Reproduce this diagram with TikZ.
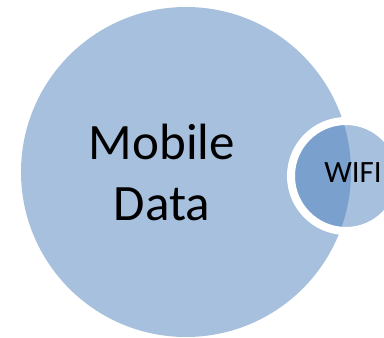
\documentclass[tikz,border=0pt]{standalone}
\usepackage{fontspec}
\setmainfont{Carlito}
\definecolor{accent}{HTML}{4F81BD}

\begin{document}
\begin{tikzpicture}[x=1pt, y=1pt,
	bubble/.style={circle, inner sep=0pt, fill=accent, fill opacity=0.5},
	bigword/.style={anchor=base, inner sep=0pt, font=\fontsize{51}{61}\selectfont},
	smallword/.style={anchor=base, inner sep=0pt, font=\fontsize{31}{36}\selectfont}]
	\useasboundingbox (0,0) rectangle (384,338);
	\node [bubble, minimum size=330pt] (M) at (186,166) {};
	\node [bubble, minimum size=110pt, draw=white, draw opacity=1, line width=8pt] (W) at (346,162) {};
	\node [bigword] (mobile) at (162,178) {Mobile};
	\node [bigword] (data) at ([yshift=-61pt]mobile.base) {Data};
	\node [smallword] (wifi) at (353,155) {WIFI};
\end{tikzpicture}
\end{document}
